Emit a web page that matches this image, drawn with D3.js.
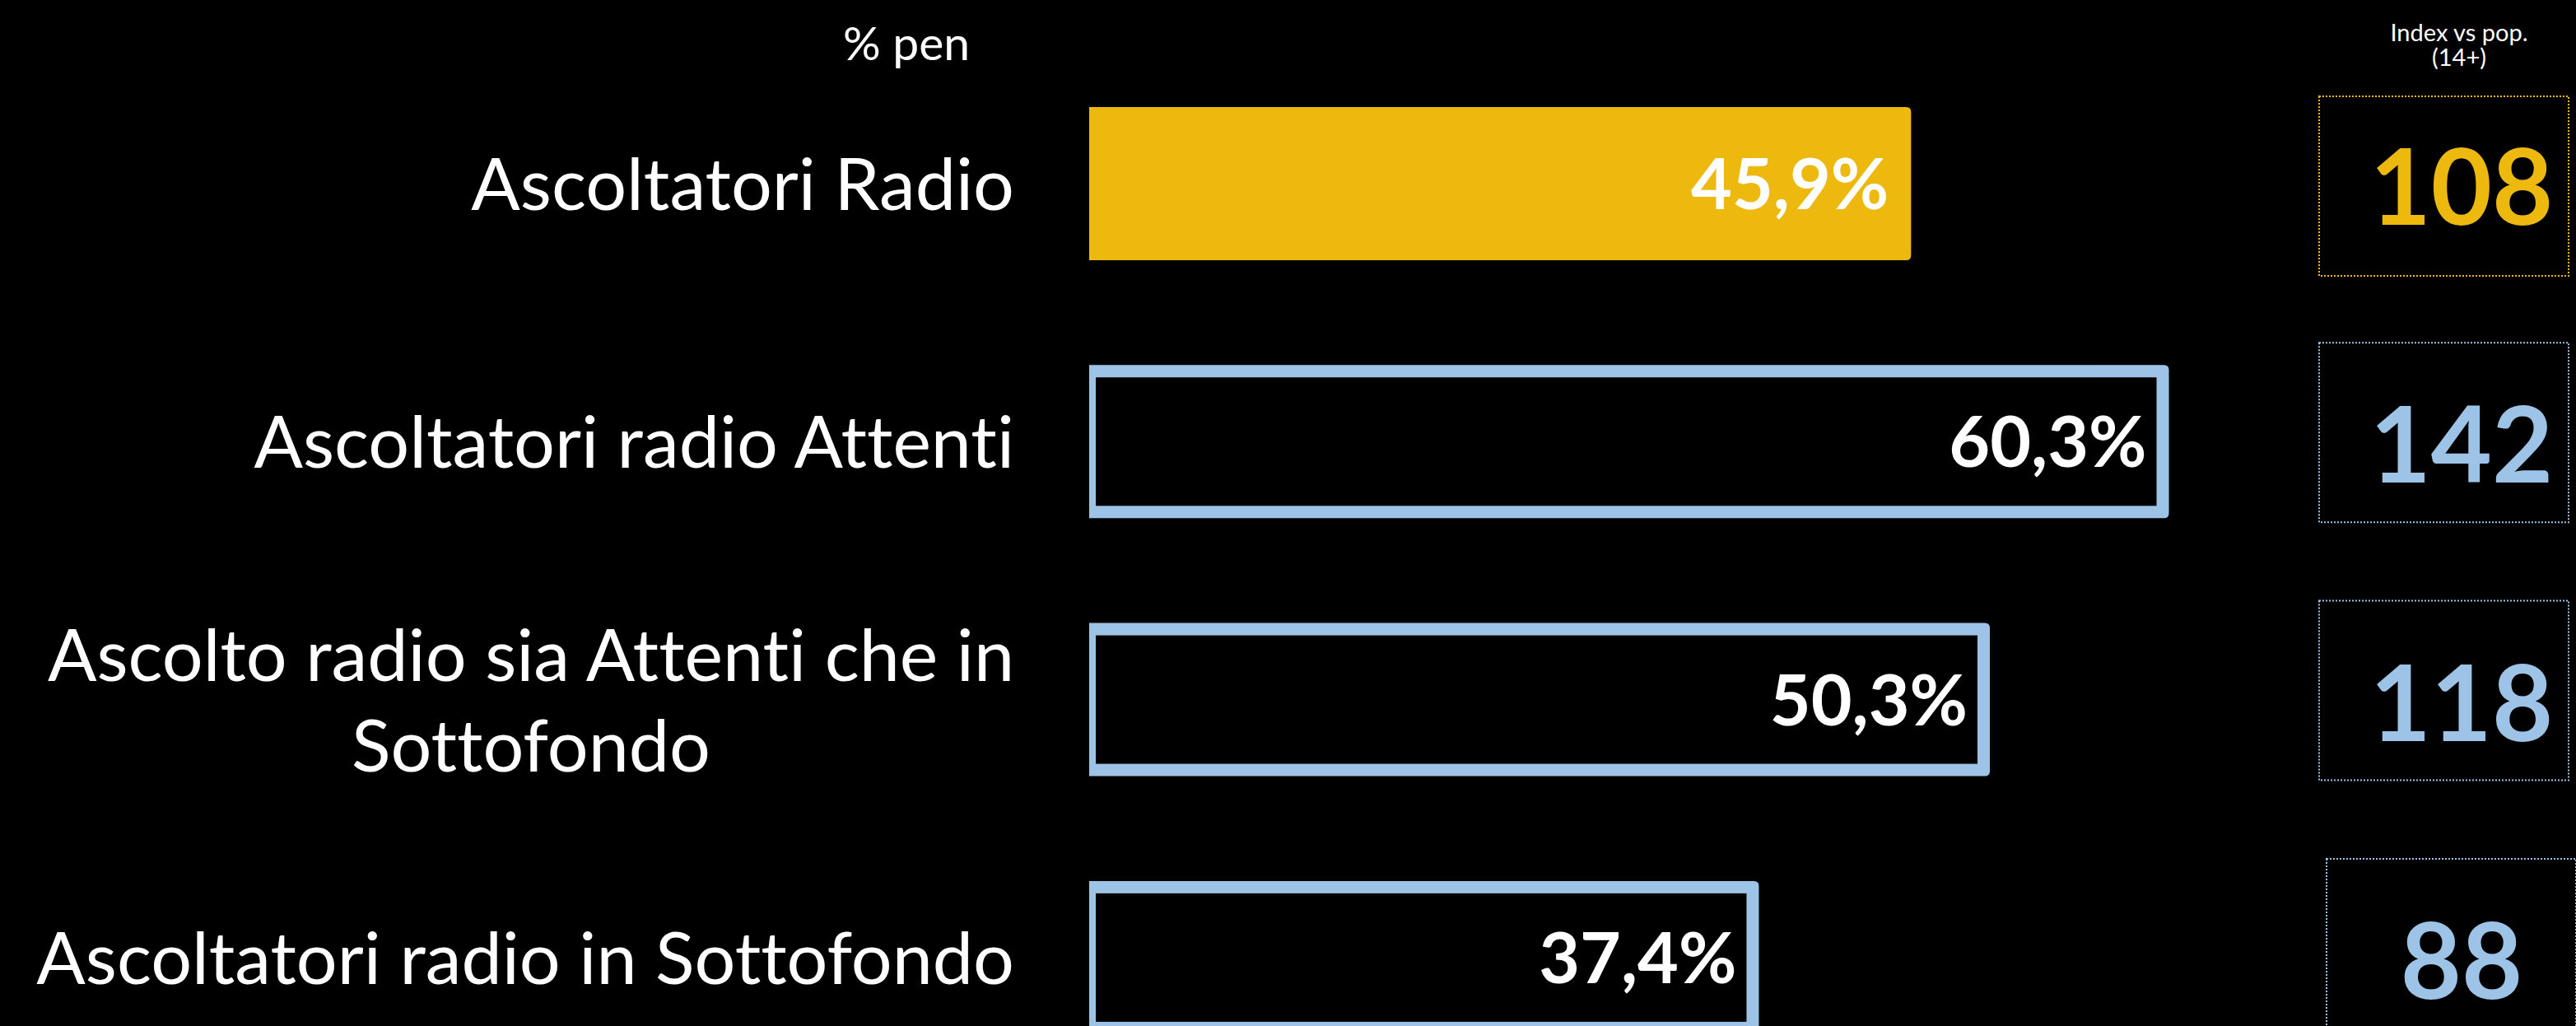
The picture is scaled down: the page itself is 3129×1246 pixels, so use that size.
<!DOCTYPE html>
<html>
<head>
<meta charset="utf-8">
<script src="https://cdn.jsdelivr.net/npm/d3@7/dist/d3.min.js"></script>
<style>
  html, body { margin: 0; padding: 0; background: #000; }
  svg { display: block; }
  text { font-family: Lato, "Open Sans", "DejaVu Sans", sans-serif; font-variant-ligatures: none; font-feature-settings: "liga" 0, "clig" 0; }
</style>
</head>
<body>
<script>
// ---- data ----
const categories = [
  "Ascoltatori Radio",
  "Ascoltatori radio Attenti",
  "Ascolto radio sia Attenti che in\nSottofondo",
  "Ascoltatori radio in Sottofondo"
];
const penValues = [45.9, 60.3, 50.3, 37.4];
const indexValues = [108, 142, 118, 88];
const headerPen = "% pen";
const headerIndex = ["Index vs pop.", "(14+)"];

// ---- layout ----
const W = 3129, H = 1246;
const gold = "#EDB90F", blue = "#9DC3E6";

const svg = d3.select("body").append("svg")
  .attr("width", W).attr("height", H)
  .style("background", "#000");

const x = d3.scaleLinear().domain([0, 100]).range([1323, 1323 + 2175]);
const y = d3.scaleBand().domain(d3.range(categories.length))
  .range([130, 130 + 3 * 313.3 + 186]).paddingInner(0.4063).paddingOuter(0);

const locale = d3.formatLocale({decimal: ",", thousands: ".", grouping: [3], currency: ["", "€"]});
const fmtPct = v => locale.format(".1f")(v) + "%";

function rightRounded(x0, y0, w, h, r) {
  return `M${x0},${y0} H${x0 + w - r} Q${x0 + w},${y0} ${x0 + w},${y0 + r} V${y0 + h - r} Q${x0 + w},${y0 + h} ${x0 + w - r},${y0 + h} H${x0} Z`;
}

// headers
svg.append("text").attr("x", 1101).attr("y", 73).attr("text-anchor", "middle")
  .attr("fill", "#fff").attr("font-size", 57).text(headerPen);
headerIndex.forEach((t, i) => {
  svg.append("text").attr("x", 2987).attr("y", 50 + i * 30).attr("text-anchor", "middle")
    .attr("fill", "#fff").attr("font-size", 29).text(t);
});

const rows = svg.selectAll("g.row").data(penValues).join("g").attr("class", "row");

rows.each(function(v, i) {
  const g = d3.select(this);
  const y0 = y(i), h = y.bandwidth(), cy = y0 + h / 2;
  const x0 = x(0), w = x(v) - x(0);
  if (i === 0) {
    g.append("path").attr("d", rightRounded(x0, y0, w, h, 6)).attr("fill", gold);
  } else {
    g.append("path").attr("d", rightRounded(x0, y0, w, h, 6)).attr("fill", blue);
    g.append("rect").attr("x", x0 + 8).attr("y", y0 + 15)
      .attr("width", w - 8 - 15).attr("height", h - 30).attr("fill", "#000");
  }
  // value label
  g.append("text").attr("x", x(v) - 27).attr("y", cy + 31)
    .attr("text-anchor", "end").attr("fill", "#fff")
    .attr("font-size", 86).attr("font-weight", 700)
    .text(fmtPct(v));

  // category label
  const lines = categories[i].split("\n");
  const fs = 88;
  if (lines.length === 1) {
    g.append("text").attr("x", 1232).attr("y", cy + 32)
      .attr("text-anchor", "end").attr("fill", "#fff").attr("font-size", fs)
      .text(lines[0]);
  } else {
    const t1 = g.append("text").attr("x", 1232).attr("y", cy + 32 - 55)
      .attr("text-anchor", "end").attr("fill", "#fff").attr("font-size", fs)
      .text(lines[0]);
    const lw = t1.node().getComputedTextLength();
    g.append("text").attr("x", 1232 - lw / 2).attr("y", cy + 32 + 55)
      .attr("text-anchor", "middle").attr("fill", "#fff").attr("font-size", fs)
      .text(lines[1]);
  }

  // index box
  const col = i === 0 ? gold : blue;
  const boxTop = cy - (i === 0 ? 106 : 120);
  g.append("rect").attr("x", i === 3 ? 2826 : 2817).attr("y", boxTop)
    .attr("width", 303).attr("height", 218)
    .attr("fill", "none").attr("stroke", col).attr("stroke-width", 2)
    .attr("stroke-dasharray", "2,2");
  g.append("text").attr("x", 2990).attr("y", cy + 50)
    .attr("text-anchor", "middle").attr("fill", col)
    .attr("font-size", 128).attr("font-weight", 700)
    .text(indexValues[i]);
});
</script>
</body>
</html>
